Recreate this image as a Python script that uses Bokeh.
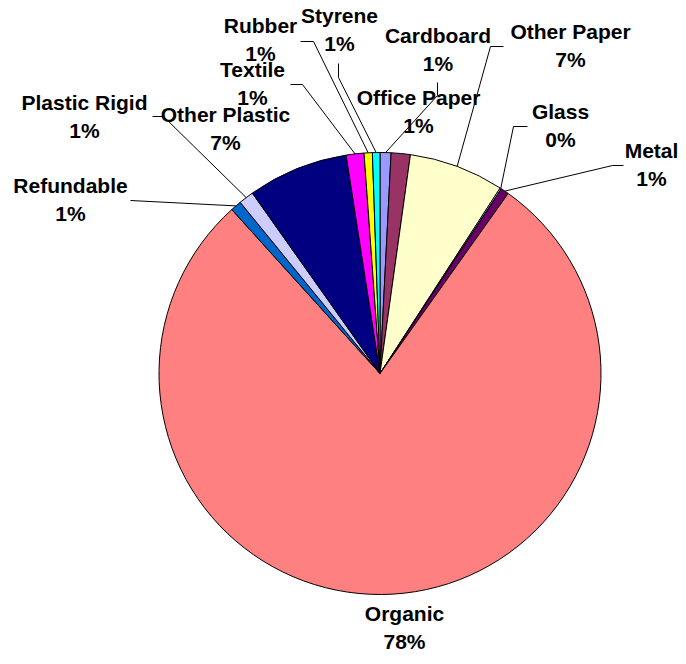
import math
from bokeh.plotting import figure
from bokeh.models import Range1d, ColumnDataSource
from bokeh.core.properties import value
from bokeh.embed import file_html
from bokeh.resources import INLINE

# ---- data ----
categories = ["Office Paper", "Cardboard", "Other Paper", "Glass", "Metal", "Organic",
              "Refundable", "Plastic Rigid", "Other Plastic", "Textile", "Rubber", "Styrene"]
shares = [0.8, 1.4, 6.95, 0.1, 0.6, 78.45, 0.8, 1.1, 7.35, 1.3, 0.6, 0.55]
colors = ["#9999FF", "#993366", "#FFFFCC", "#CCFFFF", "#660066", "#FF8080",
          "#0066CC", "#CCCCFF", "#000080", "#FF00FF", "#FFFF00", "#00FFFF"]

# ---- layout (picture pixel space: x right, y down) ----
FW, FH = 678, 656
CX, CY, R = 379.5, 373.0, 221.0
LINE_GAP = 28
TEXT_SHIFT = -8  # compensates the renderer's baseline offset
label_pos = {
    "Office Paper": (418, 105), "Cardboard": (437.5, 43), "Other Paper": (570, 39),
    "Glass": (560, 119), "Metal": (651, 158), "Organic": (404, 621),
    "Refundable": (70, 193), "Plastic Rigid": (84, 110), "Other Plastic": (225, 122),
    "Textile": (252, 77), "Rubber": (260, 33), "Styrene": (339, 23),
}
leader_pts = {
    "Rubber": [(313, 41), (300, 41)],
    "Styrene": [(338, 77), (338, 63)],
    "Textile": [(302, 84), (290, 84)],
    "Office Paper": [(437, 95), (437, 82)],
    "Other Paper": [(490, 46), (503, 46)],
    "Glass": [(513, 126), (527, 126)],
    "Metal": [(612, 165), (623, 165)],
    "Plastic Rigid": [(163, 116), (152, 116)],
    "Refundable": [(130, 200)],
}

def Y(py):
    return FH - py

total = sum(shares)
starts, ends, mids = [], [], []
cum = 0.0
for v in shares:
    f0 = cum / total
    cum += v
    f1 = cum / total
    # clockwise from 12 o'clock
    starts.append(math.pi / 2 - 2 * math.pi * f1)
    ends.append(math.pi / 2 - 2 * math.pi * f0)
    mids.append(2 * math.pi * (f0 + f1) / 2)

p = figure(width=FW, height=FH, output_backend="svg", toolbar_location=None,
           x_range=Range1d(0, FW), y_range=Range1d(0, FH),
           min_border=0, outline_line_color=None)
p.axis.visible = False
p.grid.visible = False
p.background_fill_color = "white"
p.border_fill_color = "white"

src = ColumnDataSource(dict(cat=categories, start=starts, end=ends, color=colors))
p.wedge(x=CX, y=Y(CY), radius=R, start_angle="start", end_angle="end",
        direction="anticlock", fill_color="color", line_color="black", line_width=1,
        source=src)

# leader lines
xs, ys = [], []
for cat, m in zip(categories, mids):
    if cat in leader_pts:
        ax = CX + R * math.sin(m)
        ay = CY - R * math.cos(m)
        pts = [(ax, ay)] + leader_pts[cat]
        xs.append([q[0] for q in pts])
        ys.append([Y(q[1]) for q in pts])
p.multi_line(xs=xs, ys=ys, line_color="black", line_width=1)

# labels
lx, ly1, ly2, names, pcts = [], [], [], [], []
for cat, v in zip(categories, shares):
    x, y = label_pos[cat]
    lx.append(x)
    ly1.append(Y(y + TEXT_SHIFT))
    ly2.append(Y(y + LINE_GAP + TEXT_SHIFT))
    names.append(cat)
    pcts.append(f"{round(v / total * 100)}%")

for yy, tt in ((ly1, names), (ly2, pcts)):
    p.text(x=lx, y=yy, text=tt, text_align="center", text_baseline="alphabetic",
           text_font=value("Liberation Sans"), text_font_style="bold",
           text_font_size="21px", text_color="black")

open("out.html", "w").write(file_html(p, INLINE))
